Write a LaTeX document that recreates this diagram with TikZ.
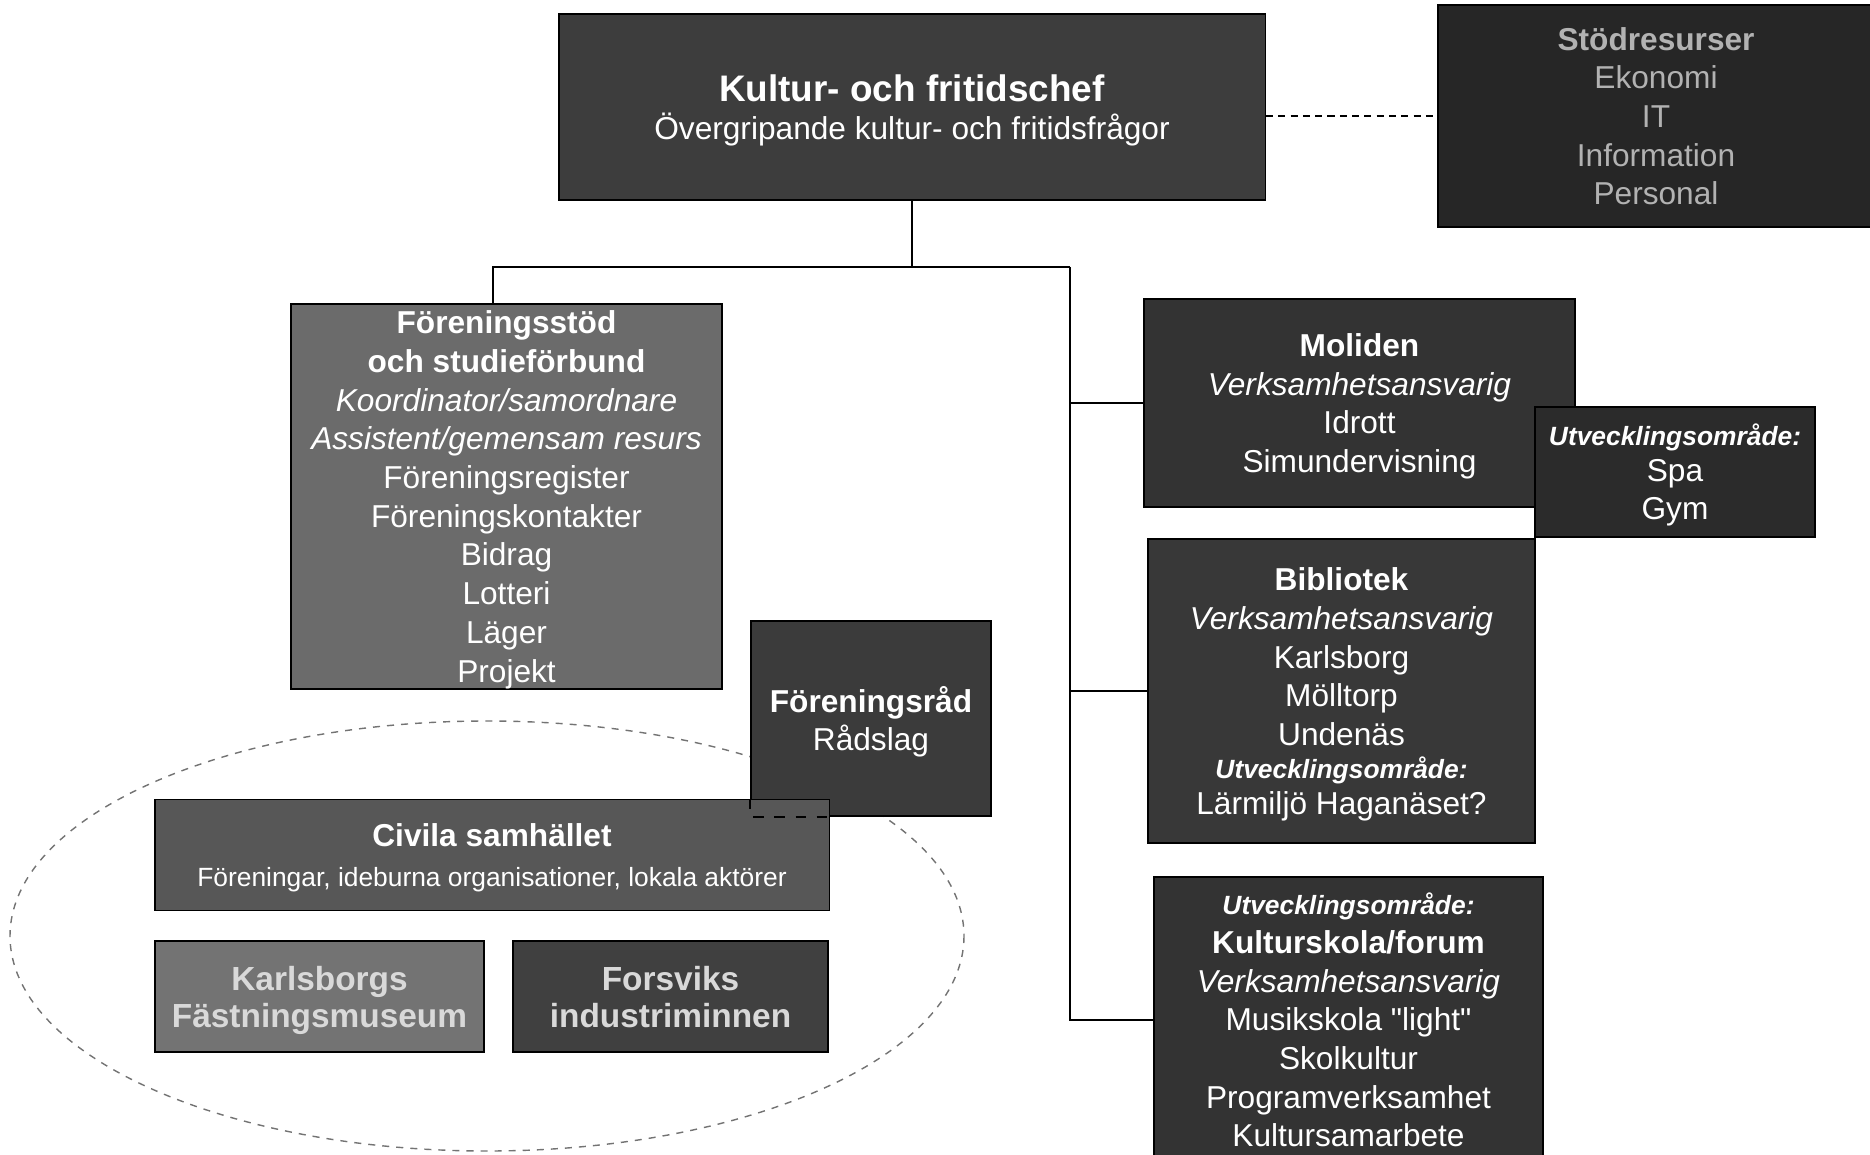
\documentclass[tikz,border=0pt]{standalone}
\usepackage{fontspec}
\setmainfont{Liberation Sans}
\usepackage{tikz}

\newcommand{\utvomr}{{\fontsize{7.5}{9}\selectfont\bfseries\itshape Utvecklingsområde:}}

\begin{document}
\begin{tikzpicture}[x=0.01cm,y=-0.01cm]
\tikzstyle{every node}=[align=center, inner sep=0pt, text depth=-1pt, text=white, font=\fontsize{9}{11}\selectfont]
\tikzstyle{unit}=[draw=black, line width=0.4pt]
\tikzstyle{link}=[line width=0.8pt]
\useasboundingbox (0,0) rectangle (1870,1155);
\draw[black!55, line width=0.4pt, dash pattern=on 2pt off 2pt] (487,936) ellipse [x radius=477, y radius=215];
\draw (912,107) node (chef) [unit, fill=black!76, minimum width=70.6mm, minimum height=18.6mm]
  {{\fontsize{10.5}{13}\selectfont\bfseries Kultur- och fritidschef}\\Övergripande kultur- och fritidsfrågor};
\draw (1656,116) node (stod) [unit, fill=black!85, text=black!30, minimum width=43.6mm, minimum height=22.2mm]
  {\textbf{Stödresurser}\\Ekonomi\\IT\\Information\\Personal};
\draw (506.5,496.5) node (forstod) [unit, fill=black!58, minimum width=43.1mm, minimum height=38.5mm]
  {\textbf{Föreningsstöd}\\\textbf{och studieförbund}\\\textit{Koordinator/samordnare}\\\textit{Assistent/gemensam resurs}\\Föreningsregister\\Föreningskontakter\\Bidrag\\Lotteri\\Läger\\Projekt};
\draw (871,718.5) node (rad) [unit, fill=black!77, minimum width=24mm, minimum height=19.5mm]
  {\textbf{Föreningsråd}\\Rådslag};
\draw (492,855) node (civ) [unit, fill=black!66, minimum width=67.4mm, minimum height=11.1mm]
  {\textbf{Civila samhället}\\[0.5pt]{\fontsize{7.5}{9}\selectfont Föreningar, ideburna organisationer, lokala aktörer}};
\draw[dashed, line width=0.6pt] (rad.south west |- civ.north) -- (rad.south west) -- (rad.south -| civ.east);
\draw (319.5,996.5) node (karl) [unit, fill=black!55, text=black!15, minimum width=32.9mm, minimum height=11.1mm,
  font=\fontsize{9.5}{10.5}\selectfont\bfseries] {Karlsborgs\\Fästningsmuseum};
\draw (670.5,996.5) node (fors) [unit, fill=black!75, text=black!15, minimum width=31.5mm, minimum height=11.1mm,
  font=\fontsize{9.5}{10.5}\selectfont\bfseries] {Forsviks\\industriminnen};
\draw (1359.5,403) node (mol) [unit, fill=black!80, minimum width=43.1mm, minimum height=20.8mm]
  {\textbf{Moliden}\\\textit{Verksamhetsansvarig}\\Idrott\\Simundervisning};
\draw (1675,472) node (spa) [unit, fill=black!83, minimum width=28mm, minimum height=13mm]
  {\utvomr\\[-1pt]Spa\\Gym};
\draw (1341.5,691) node (bib) [unit, fill=black!78, minimum width=38.7mm, minimum height=30.4mm]
  {\textbf{Bibliotek}\\\textit{Verksamhetsansvarig}\\Karlsborg\\Mölltorp\\Undenäs\\[-1.5pt]\utvomr\\[-1pt]Lärmiljö Haganäset?};
\draw (1348.5,1020) node (kult) [unit, fill=black!80, minimum width=38.9mm, minimum height=28.6mm]
  {\utvomr\\\textbf{Kulturskola/forum}\\\textit{Verksamhetsansvarig}\\Musikskola \textquotedbl light\textquotedbl\\Skolkultur\\Programverksamhet\\Kultursamarbete};
\coordinate (trunk) at (1070,267);
\draw[link] (chef.south) |- (trunk);
\draw[link] ([xshift=-1.35mm]forstod.north) |- (trunk);
\draw[link] (trunk) |- (kult.west);
\draw[link] (trunk |- mol.west) -- (mol.west);
\draw[link] (trunk |- bib.west) -- (bib.west);
\draw[link, dash pattern=on 2pt off 1.5pt] (chef.east |- stod.west) -- (stod.west);
\end{tikzpicture}
\end{document}
